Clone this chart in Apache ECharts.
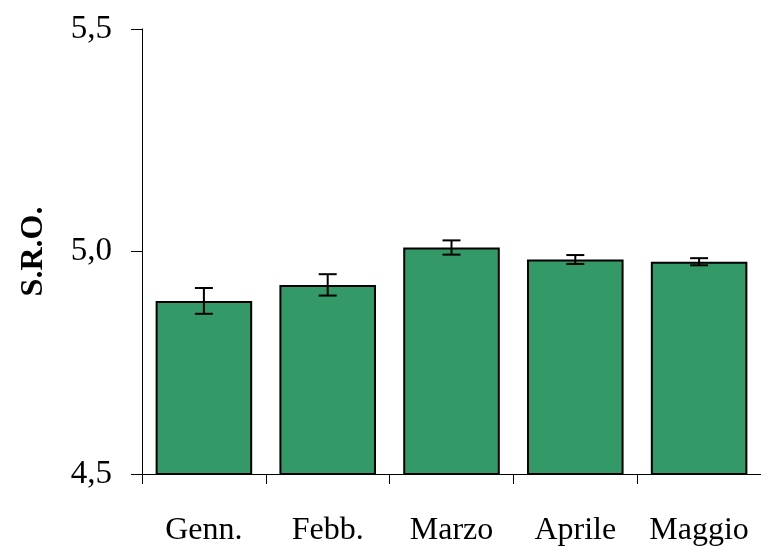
<!DOCTYPE html>
<html>
<head>
<meta charset="utf-8">
<script src="https://cdn.jsdelivr.net/npm/echarts@6/dist/echarts.min.js"></script>
<style>
  html, body { margin: 0; padding: 0; background: #fff; }
  #main { width: 761px; height: 548px; }
</style>
</head>
<body>
<div id="main"></div>
<script>
// dati
const categories = ["Genn.", "Febb.", "Marzo", "Aprile", "Maggio"];
const values = [4.889, 4.925, 5.009, 4.982, 4.977];
const errors = [0.029, 0.024, 0.016, 0.010, 0.008];
const yTicks = [4.5, 5.0, 5.5];

const chart = echarts.init(document.getElementById("main"));

const font = "'Liberation Serif', 'Times New Roman', serif";

const errData = values.map((v, i) => [i, v - errors[i], v + errors[i]]);

const option = {
  animation: false,
  grid: {
    left: 142,
    top: 29,
    width: 624,
    bottom: 74,
  },
  xAxis: {
    type: "category",
    data: categories,
    axisLine: { lineStyle: { color: "#000", width: 1 } },
    axisTick: { show: true, interval: 0, length: 10, lineStyle: { color: "#000" } },
    axisLabel: {
      interval: 0,
      hideOverlap: false,
      color: "#000",
      fontFamily: font,
      fontSize: 32,
      margin: 41,
    },
  },
  yAxis: {
    type: "value",
    min: yTicks[0],
    max: yTicks[yTicks.length - 1],
    interval: 0.5,
    name: "S.R.O.",
    nameLocation: "middle",
    nameGap: 92,
    nameTextStyle: {
      color: "#000",
      fontFamily: font,
      fontSize: 32,
      fontWeight: "bold",
    },
    splitLine: { show: false },
    axisLine: { show: true, lineStyle: { color: "#000", width: 1 } },
    axisTick: { show: true, length: 11, lineStyle: { color: "#000" } },
    axisLabel: {
      color: "#000",
      fontFamily: font,
      fontSize: 33,
      margin: 30,
      formatter: (v) => v.toFixed(1).replace(".", ","),
    },
  },
  series: [
    {
      type: "bar",
      data: values,
      barWidth: "78%",
      itemStyle: {
        color: "#339966",
        borderColor: "#000",
        borderWidth: 2,
      },
    },
    {
      type: "custom",
      data: errData,
      z: 10,
      renderItem: function (params, api) {
        const x = api.value(0);
        const lo = api.coord([x, api.value(1)]);
        const hi = api.coord([x, api.value(2)]);
        const half = 9;
        const style = { stroke: "#000", lineWidth: 2 };
        return {
          type: "group",
          children: [
            { type: "line", shape: { x1: hi[0], y1: hi[1], x2: lo[0], y2: lo[1] }, style: style },
            { type: "line", shape: { x1: hi[0] - half, y1: hi[1], x2: hi[0] + half, y2: hi[1] }, style: style },
            { type: "line", shape: { x1: lo[0] - half, y1: lo[1], x2: lo[0] + half, y2: lo[1] }, style: style },
          ],
        };
      },
    },
  ],
};

chart.setOption(option);
</script>
</body>
</html>
